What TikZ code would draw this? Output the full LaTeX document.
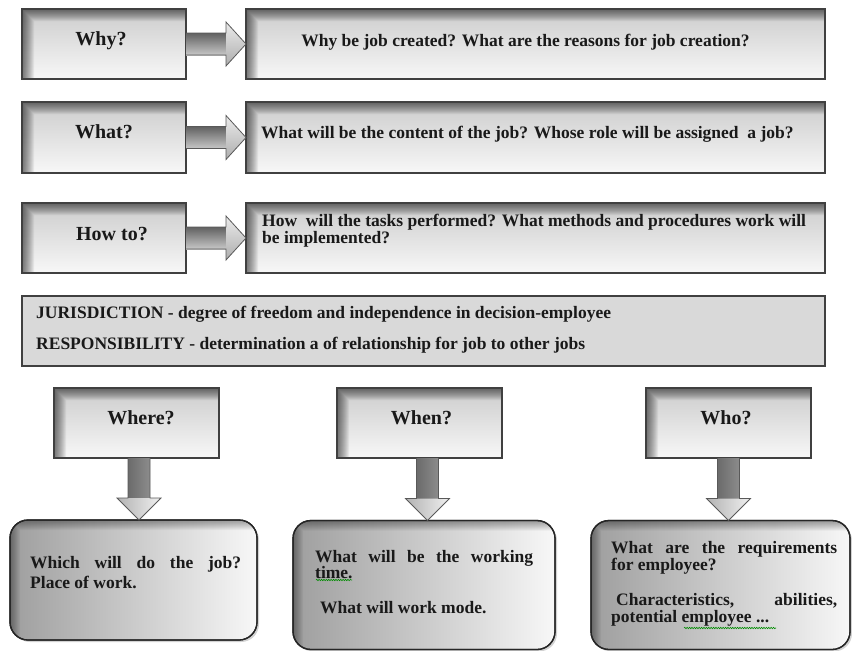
\documentclass[tikz,border=0pt]{standalone}
\usepackage{fontspec}
\setmainfont{Liberation Serif}
\usetikzlibrary{calc,shadows,decorations.pathmorphing}
% inner shadow along the left and top edges of a node: name, corner radius, layers, opacity, border colour, border width
\newcommand\myglow[6]{%
  \begin{scope}
    \clip[rounded corners=#2] (#1.south west) rectangle (#1.north east);
    \foreach \i in {1,...,#3}{%
      \fill[black,fill opacity=#4,even odd rule]
        (#1.south west) rectangle (#1.north east)
        ([xshift=\i pt]#1.south west) rectangle ([yshift=-\i pt]#1.north east);}
  \end{scope}
  \draw[draw=#5, line width=#6, rounded corners=#2] (#1.south west) rectangle (#1.north east);}
\newcommand\myharrow[2]{%
  \shade[top color=black!62, middle color=black!10, bottom color=black!22]
    ([yshift=11pt]#1.east) rectangle ([xshift=-20pt,yshift=-11pt]#2.west);
  \shade[top color=black!8, bottom color=black!32]
    ([xshift=-20pt,yshift=22pt]#2.west) -- (#2.west) -- ([xshift=-20pt,yshift=-22pt]#2.west) -- cycle;
  \draw[arrline] ([yshift=11pt]#1.east) -- ([xshift=-20pt,yshift=11pt]#2.west)
    -- ([xshift=-20pt,yshift=22pt]#2.west) -- (#2.west)
    -- ([xshift=-20pt,yshift=-22pt]#2.west) -- ([xshift=-20pt,yshift=-11pt]#2.west)
    -- ([yshift=-11pt]#1.east);}
\newcommand\myvarrow[3]{% top node, bottom node, x shift
  \coordinate (va#1) at ([xshift=#3]#1.south);
  \coordinate (vt#1) at (va#1 |- #2.north);
  \shade[left color=black!58, middle color=black!4, right color=black!45]
    ([xshift=-11pt]va#1) rectangle ([xshift=11pt,yshift=22pt]vt#1);
  \shade[left color=black!30, right color=black!6]
    ([xshift=-22pt,yshift=22pt]vt#1) -- (vt#1) -- ([xshift=22pt,yshift=22pt]vt#1) -- cycle;
  \draw[arrline] ([xshift=-11pt]va#1) -- ([xshift=-11pt,yshift=22pt]vt#1)
    -- ([xshift=-22pt,yshift=22pt]vt#1) -- (vt#1)
    -- ([xshift=22pt,yshift=22pt]vt#1) -- ([xshift=11pt,yshift=22pt]vt#1)
    -- ([xshift=11pt]va#1);}
\tikzset{
  hbox/.style={draw=black!75, line width=1.1pt, inner sep=0pt, outer sep=0pt,
    top color=black!20, bottom color=black!3},
  hdr/.style={font=\fontsize{20}{22}\selectfont\bfseries, inner sep=0pt, text=black!90},
  body/.style={font=\fontsize{17.5}{17}\selectfont\bfseries, inner sep=0pt, text=black!90},
  rbox/.style={draw=black!85, line width=1.3pt, rounded corners=18pt, inner sep=0pt, outer sep=0pt,
    left color=black!38, right color=black!3,
    drop shadow={shadow xshift=2pt, shadow yshift=-2pt, opacity=0.35}},
  arrline/.style={draw=black!65, line width=0.8pt, line join=miter},
  squig/.style={draw=green!55!black, line width=0.6pt, decorate,
    decoration={snake, amplitude=0.7pt, segment length=2.4pt}}
}
\begin{document}
\begin{tikzpicture}[x=1pt,y=-1pt]
\useasboundingbox (0,0) rectangle (852,651);
\fill[white] (0,0) rectangle (852,651);
% upper question boxes
\node[hbox, minimum width=164pt, minimum height=70pt] (why) at (104,44) {};
\node[hbox, minimum width=579pt, minimum height=70pt] (whyT) at (535.5,44) {};
\node[hbox, minimum width=164pt, minimum height=71pt] (what) at (104,137.5) {};
\node[hbox, minimum width=579pt, minimum height=71pt] (whatT) at (535.5,137.5) {};
\node[hbox, minimum width=164pt, minimum height=70pt] (how) at (104,238) {};
\node[hbox, minimum width=579pt, minimum height=70pt] (howT) at (535.5,238) {};
\foreach \n in {why,whyT,what,whatT,how,howT}{\myglow{\n}{0pt}{12}{0.055}{black!75}{1.1pt}}
% arrows
\myharrow{why}{whyT}
\myharrow{what}{whatT}
\myharrow{how}{howT}
% texts
\node[hdr, anchor=base] (whyh) at (101,45) {Why?};
\node[hdr, anchor=base] (whath) at (104,138) {What?};
\node[hdr, anchor=base] (howh) at (112,240) {How to?};
\node[body, anchor=base] (whyTt) at (525.5,46) {Why be job created? What are the reasons for job creation?};
\node[body, anchor=base west] (whatTt) at (261,138) {What will be the content of the job? Whose role will be assigned\ \ a job?};
\node[body, anchor=north west, align=left] (howTt) at (262,214) {How\ \ will the tasks performed? What methods and procedures work will\\be implemented?};
% jurisdiction box
\node[draw=black!75, line width=1.1pt, fill=black!15, minimum width=803pt, minimum height=70pt] (jur) at (423.5,331) {};
\node[font=\fontsize{17.5}{31}\selectfont\bfseries, inner sep=0pt, text=black!90, anchor=north west, align=left] (jurt) at (36,306)
  {JURISDICTION - degree of freedom and independence in decision-employee\\RESPONSIBILITY - determination a of relationship for job to other jobs};
% lower boxes
\node[hbox, minimum width=165pt, minimum height=70pt] (where) at (136.5,423) {};
\node[hbox, minimum width=165pt, minimum height=70pt] (when) at (419.5,423) {};
\node[hbox, minimum width=165pt, minimum height=70pt] (who) at (728.5,423) {};
\foreach \n in {where,when,who}{\myglow{\n}{0pt}{12}{0.055}{black!75}{1.1pt}}
\node[hdr, anchor=base] (whereh) at (141,424) {Where?};
\node[hdr, anchor=base] (whenh) at (421.5,424) {When?};
\node[hdr, anchor=base] (whoh) at (726,424) {Who?};
\node[rbox, minimum width=247pt, minimum height=120pt] (whereB) at (133.5,580) {};
\node[rbox, minimum width=262pt, minimum height=129pt] (whenB) at (424,585) {};
\node[rbox, minimum width=259pt, minimum height=129pt] (whoB) at (720.5,585) {};
\foreach \n in {whereB,whenB,whoB}{\myglow{\n}{18pt}{10}{0.04}{black!85}{1.3pt}}
\myvarrow{where}{whereB}{2.5pt}
\myvarrow{when}{whenB}{8pt}
\myvarrow{who}{whoB}{0pt}
\node[font=\fontsize{17.5}{20}\selectfont\bfseries, inner sep=0pt, text=black!90, anchor=north west, text width=211pt, align=justify] (whereBt) at (30,556)
  {Which will do the job?\linebreak Place of work.};
\node[font=\fontsize{17.5}{16.5}\selectfont\bfseries, inner sep=0pt, text=black!90, anchor=north west, text width=218pt, align=justify] (whenBt) at (315,550)
  {What will be the working\linebreak time.\\[18pt]\hspace*{5pt}What will work mode.};
\node[font=\fontsize{17.5}{17.5}\selectfont\bfseries, inner sep=0pt, text=black!90, anchor=north west, text width=226pt, align=justify] (whoBt) at (611,541)
  {What are the requirements\linebreak for employee?\\[17pt]\hspace*{5pt}Characteristics, abilities,\linebreak potential employee ...};
\draw[squig] (316,580) -- (352,580);
\draw[squig] (684,628) -- (776,628);
\end{tikzpicture}
\end{document}
